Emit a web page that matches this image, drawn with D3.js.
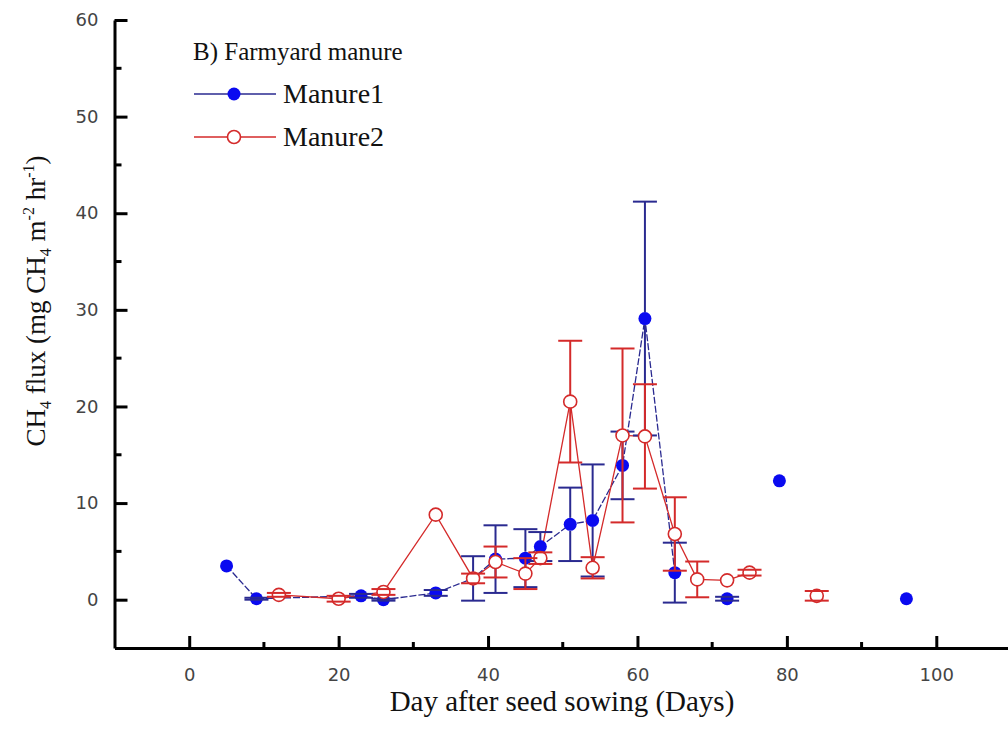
<!DOCTYPE html>
<html>
<head>
<meta charset="utf-8">
<script src="https://cdn.jsdelivr.net/npm/d3@7"></script>
<style>
  body { margin: 0; background: #fff; }
  .tick text { font-family: "DejaVu Sans", sans-serif; font-size: 18px; fill: #444; }
  .serif { font-family: "Liberation Serif", "Times New Roman", serif; fill: #111; }
</style>
</head>
<body>
<div id="chart"></div>
<script>
// Manure1 (filled blue)
const days1 = [5, 9, 23, 26, 33, 38, 41, 45, 47, 51, 54, 58, 61, 65, 72, 79, 96];
const flux1 = [3.5, 0.1, 0.4, 0.0, 0.7, 2.2, 4.2, 4.3, 5.5, 7.8, 8.2, 13.9, 29.1, 2.8, 0.1, 12.3, 0.1];
const err1  = [0, 0.1, 0.2, 0.1, 0.3, 2.3, 3.5, 3.0, 1.5, 3.8, 5.8, 3.5, 12.1, 3.1, 0.2, 0, 0];
const lineEnd1 = 65;   // last day joined by the line

// Manure2 (open red)
const days2 = [12, 20, 26, 33, 38, 41, 45, 47, 51, 54, 58, 61, 65, 68, 72, 75, 84];
const flux2 = [0.5, 0.1, 0.8, 8.8, 2.2, 3.9, 2.7, 4.3, 20.5, 3.3, 17.0, 16.9, 6.8, 2.1, 2.0, 2.8, 0.4];
const err2  = [0.2, 0.3, 0.3, 0, 0.5, 1.6, 1.6, 0.6, 6.3, 1.1, 9.0, 5.4, 3.8, 1.85, 0, 0.3, 0.5];
const lineEnd2 = 75;

const xTicks = [0, 20, 40, 60, 80, 100];
const xMinor = [10, 30, 50, 70, 90];
const yTicks = [0, 10, 20, 30, 40, 50, 60];
const yMinor = [5, 15, 25, 35, 45, 55];

const width = 1008, height = 731;
const margin = {top: 20, bottom: 83, left: 114.5, right: -3};

const svg = d3.select("#chart")
    .append("svg")
    .attr("width", width)
    .attr("height", height)
    .style("background", "#fff");

const xScale = d3.scaleLinear()
    .domain([-10, 110])
    .range([margin.left, width - margin.right]);

const yScale = d3.scaleLinear()
    .domain([-5, 60])
    .range([height - margin.bottom, margin.top]);

const blue = "#0a0af0", navy = "#2a2a90", red = "#d42a2a";
const r = 6.5, cap = 12;

function makeSeries(days, flux, err) {
    return days.map((d, i) => ({day: d, v: flux[i], e: err[i]}));
}
const s1 = makeSeries(days1, flux1, err1);
const s2 = makeSeries(days2, flux2, err2);

const line = d3.line()
    .x(d => xScale(d.day))
    .y(d => yScale(d.v));

// connecting lines
svg.append("path")
    .datum(s1.filter(d => d.day <= lineEnd1))
    .attr("fill", "none")
    .attr("stroke", navy)
    .attr("stroke-width", 1.3)
    .attr("stroke-dasharray", "7,2")
    .attr("d", line);

svg.append("path")
    .datum(s2.filter(d => d.day <= lineEnd2))
    .attr("fill", "none")
    .attr("stroke", red)
    .attr("stroke-width", 1.3)
    .attr("d", line);

// error bars (stem starts at the marker edge)
function errorBars(data, color) {
    const g = svg.append("g").attr("stroke", color).attr("stroke-width", 2);
    data.filter(d => d.e > 0).forEach(d => {
        const x = xScale(d.day), y = yScale(d.v);
        const yt = yScale(d.v + d.e), yb = yScale(d.v - d.e);
        if (y - yt > r) {
            g.append("line").attr("x1", x).attr("x2", x).attr("y1", y - r).attr("y2", yt);
            g.append("line").attr("x1", x).attr("x2", x).attr("y1", y + r).attr("y2", yb);
        }
        g.append("line").attr("x1", x - cap).attr("x2", x + cap).attr("y1", yt).attr("y2", yt);
        g.append("line").attr("x1", x - cap).attr("x2", x + cap).attr("y1", yb).attr("y2", yb);
    });
}

svg.selectAll(".m1")
    .data(s1)
    .enter().append("circle")
    .attr("class", "m1")
    .attr("cx", d => xScale(d.day))
    .attr("cy", d => yScale(d.v))
    .attr("r", r)
    .attr("fill", blue);
errorBars(s1, navy);

svg.selectAll(".m2")
    .data(s2)
    .enter().append("circle")
    .attr("class", "m2")
    .attr("cx", d => xScale(d.day))
    .attr("cy", d => yScale(d.v))
    .attr("r", r)
    .attr("fill", "#fff")
    .attr("stroke", red)
    .attr("stroke-width", 1.6);
errorBars(s2, red);

// axes (ticks point inward)
const xAxis = svg.append("g")
    .attr("transform", `translate(0,${height - margin.bottom})`)
    .call(d3.axisBottom(xScale).tickValues(xTicks).tickSize(-12).tickSizeOuter(0).tickPadding(20));
xAxis.select(".domain").attr("stroke-width", 3);
xAxis.selectAll(".tick line").attr("stroke-width", 3);
xAxis.selectAll(".minor")
    .data(xMinor)
    .enter().append("line")
    .attr("x1", d => xScale(d)).attr("x2", d => xScale(d))
    .attr("y1", 0).attr("y2", -6)
    .attr("stroke", "#000").attr("stroke-width", 3);

const yAxis = svg.append("g")
    .attr("transform", `translate(${margin.left},0)`)
    .call(d3.axisLeft(yScale).tickValues(yTicks).tickSize(-13).tickSizeOuter(0).tickPadding(16));
yAxis.select(".domain").attr("stroke-width", 3);
yAxis.selectAll(".tick line").attr("stroke-width", 3);
yAxis.selectAll(".minor")
    .data(yMinor)
    .enter().append("line")
    .attr("y1", d => yScale(d)).attr("y2", d => yScale(d))
    .attr("x1", 0).attr("x2", 7)
    .attr("stroke", "#000").attr("stroke-width", 3);

// x-axis label
svg.append("text")
    .attr("class", "serif")
    .attr("x", 562)
    .attr("y", 711)
    .attr("text-anchor", "middle")
    .style("font-size", "29px")
    .text("Day after seed sowing (Days)");

// y-axis label with sub/superscripts
const yl = svg.append("text")
    .attr("class", "serif")
    .attr("transform", "translate(45,301) rotate(-90)")
    .attr("text-anchor", "middle")
    .style("font-size", "27px");
yl.append("tspan").text("CH");
yl.append("tspan").attr("dy", 6).style("font-size", "16px").text("4");
yl.append("tspan").attr("dy", -6).text(" flux (mg CH");
yl.append("tspan").attr("dy", 6).style("font-size", "16px").text("4");
yl.append("tspan").attr("dy", -6).text(" m");
yl.append("tspan").attr("dy", -11).style("font-size", "16px").text("-2");
yl.append("tspan").attr("dy", 11).text(" hr");
yl.append("tspan").attr("dy", -11).style("font-size", "16px").text("-1");
yl.append("tspan").attr("dy", 11).text(")");

// legend
svg.append("text")
    .attr("class", "serif")
    .attr("x", 193)
    .attr("y", 60)
    .style("font-size", "25px")
    .text("B) Farmyard manure");

const legendItems = [
    {name: "Manure1", stroke: navy, fill: blue, open: false},
    {name: "Manure2", stroke: red, fill: "#fff", open: true}
];
const legend = svg.selectAll(".legend")
    .data(legendItems)
    .enter().append("g")
    .attr("class", "legend")
    .attr("transform", (d, i) => `translate(0,${94 + i * 43})`);

legend.append("line")
    .attr("x1", 194).attr("x2", 276)
    .attr("y1", 0).attr("y2", 0)
    .attr("stroke", d => d.stroke)
    .attr("stroke-width", 1.3);

legend.append("circle")
    .attr("cx", 234).attr("cy", 0).attr("r", r)
    .attr("fill", d => d.fill)
    .attr("stroke", d => d.open ? red : "none")
    .attr("stroke-width", 1.6);

legend.append("text")
    .attr("class", "serif")
    .attr("x", 283)
    .attr("y", 9)
    .style("font-size", "28px")
    .text(d => d.name);
</script>
</body>
</html>
